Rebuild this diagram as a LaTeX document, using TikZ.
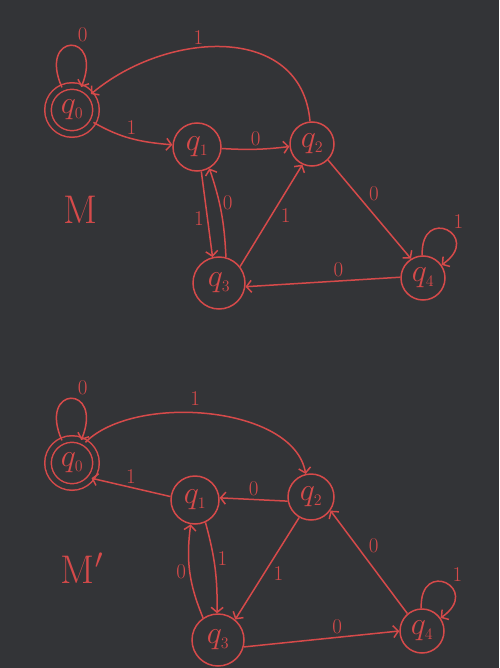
\RequirePackage{fix-cm}
\documentclass[tikz,border=0pt]{standalone}
\usepackage{tikz}
\usetikzlibrary{arrows.meta}
\definecolor{board}{RGB}{51,52,55}
\definecolor{chalk}{RGB}{214,74,74}
\newcommand{\st}[1]{$q_{\scriptscriptstyle #1}$}
\tikzstyle{state}     = [circle, draw=chalk, line width=1.5pt, text=chalk, minimum size=46pt, inner sep=0pt, font=\fontsize{32}{34}\selectfont]
\tikzstyle{accept}    = [state, double=board, double distance=5pt]
\tikzstyle{arrow}     = [draw=chalk, line width=1.5pt, -{Straight Barb[length=5pt,width=12pt]}]
\tikzstyle{elbl}      = [text=chalk, inner sep=3pt, font=\fontsize{21}{23}\selectfont]
\tikzstyle{title}     = [text=chalk, font=\fontsize{40}{42}\selectfont]

\begin{document}
\begin{tikzpicture}[x=1pt,y=-1pt]
		\fill[board] (0,0) rectangle (499,668);
		\useasboundingbox (0,0) rectangle (499,668);

		\node[accept, minimum size=48pt] (m0) at (72,110) {\st{0}};
		\node[state, minimum size=48pt] (m1) at (197,147) {\st{1}};
		\node[state, minimum size=44pt] (m2) at (312,144) {\st{2}};
		\node[state, minimum size=52pt] (m3) at (219,283) {\st{3}};
		\node[state, minimum size=44pt] (m4) at (423,278) {\st{4}};
		\node[title] (mname) at (80,210) {M};

		\draw[arrow] (m0) to[loop, out=114, in=68, looseness=8] node[elbl, above right, pos=0.55] {0} (m0);
		\draw[arrow] (m0) to[out=-30, in=175] node[elbl, above, pos=0.5] {1} (m1);
		\draw[arrow] (m1) to[bend right=5] node[elbl, above] {0} (m2);
		\draw[arrow] (m2) to[out=95, in=40, looseness=1.15] node[elbl, above, pos=0.6] {1} (m0);
		\draw[arrow] (m1.-80) -- node[elbl, left, pos=0.55] {1} (m3.104);
		\draw[arrow] (m3.75) to[bend right=8] node[elbl, right, pos=0.62] {0} (m1.-60);
		\draw[arrow] (m3.38) -- node[elbl, right=6pt, pos=0.5] {1} (m2.-115);
		\draw[arrow] (m2.-45) -- node[elbl, above right, pos=0.45] {0} (m4.122);
		\draw[arrow] (m4.178) -- node[elbl, above, pos=0.4] {0} (m3.-8);
		\draw[arrow] (m4) to[loop, out=92, in=35, looseness=6] node[elbl, above right, pos=0.55] {1} (m4);

		\node[accept, minimum size=48pt] (n0) at (72,463) {\st{0}};
		\node[state, minimum size=48pt] (n1) at (195,500) {\st{1}};
		\node[state, minimum size=46pt] (n2) at (311,497) {\st{2}};
		\node[state, minimum size=52pt] (n3) at (218,640) {\st{3}};
		\node[state, minimum size=44pt] (n4) at (422,631) {\st{4}};
		\node[title] (nname) at (82,568) {M$'$};

		\draw[arrow] (n0) to[loop, out=114, in=68, looseness=8] node[elbl, above right, pos=0.55] {0} (n0);
		\draw[arrow] (n0.57) to[out=45, in=100, looseness=0.8] node[elbl, above=4pt, pos=0.45] {1} (n2.103);
		\draw[arrow] (n1.172) -- node[elbl, above] {1} (n0.-38);
		\draw[arrow] (n2.190) -- node[elbl, above] {0} (n1.5);
		\draw[arrow] (n1.-65) to[bend left=8] node[elbl, right, pos=0.4] {1} (n3.92);
		\draw[arrow] (n3.124) to[bend left=15] node[elbl, left] {0} (n1.-100);
		\draw[arrow] (n2.-120) -- node[elbl, right=6pt, pos=0.55] {1} (n3.50);
		\draw[arrow] (n4.130) -- node[elbl, above right, pos=0.55] {0} (n2.-35);
		\draw[arrow] (n3.-15) -- node[elbl, above, pos=0.6] {0} (n4.180);
		\draw[arrow] (n4) to[loop, out=92, in=35, looseness=6] node[elbl, above right, pos=0.55] {1} (n4);
	\end{tikzpicture}
\end{document}
